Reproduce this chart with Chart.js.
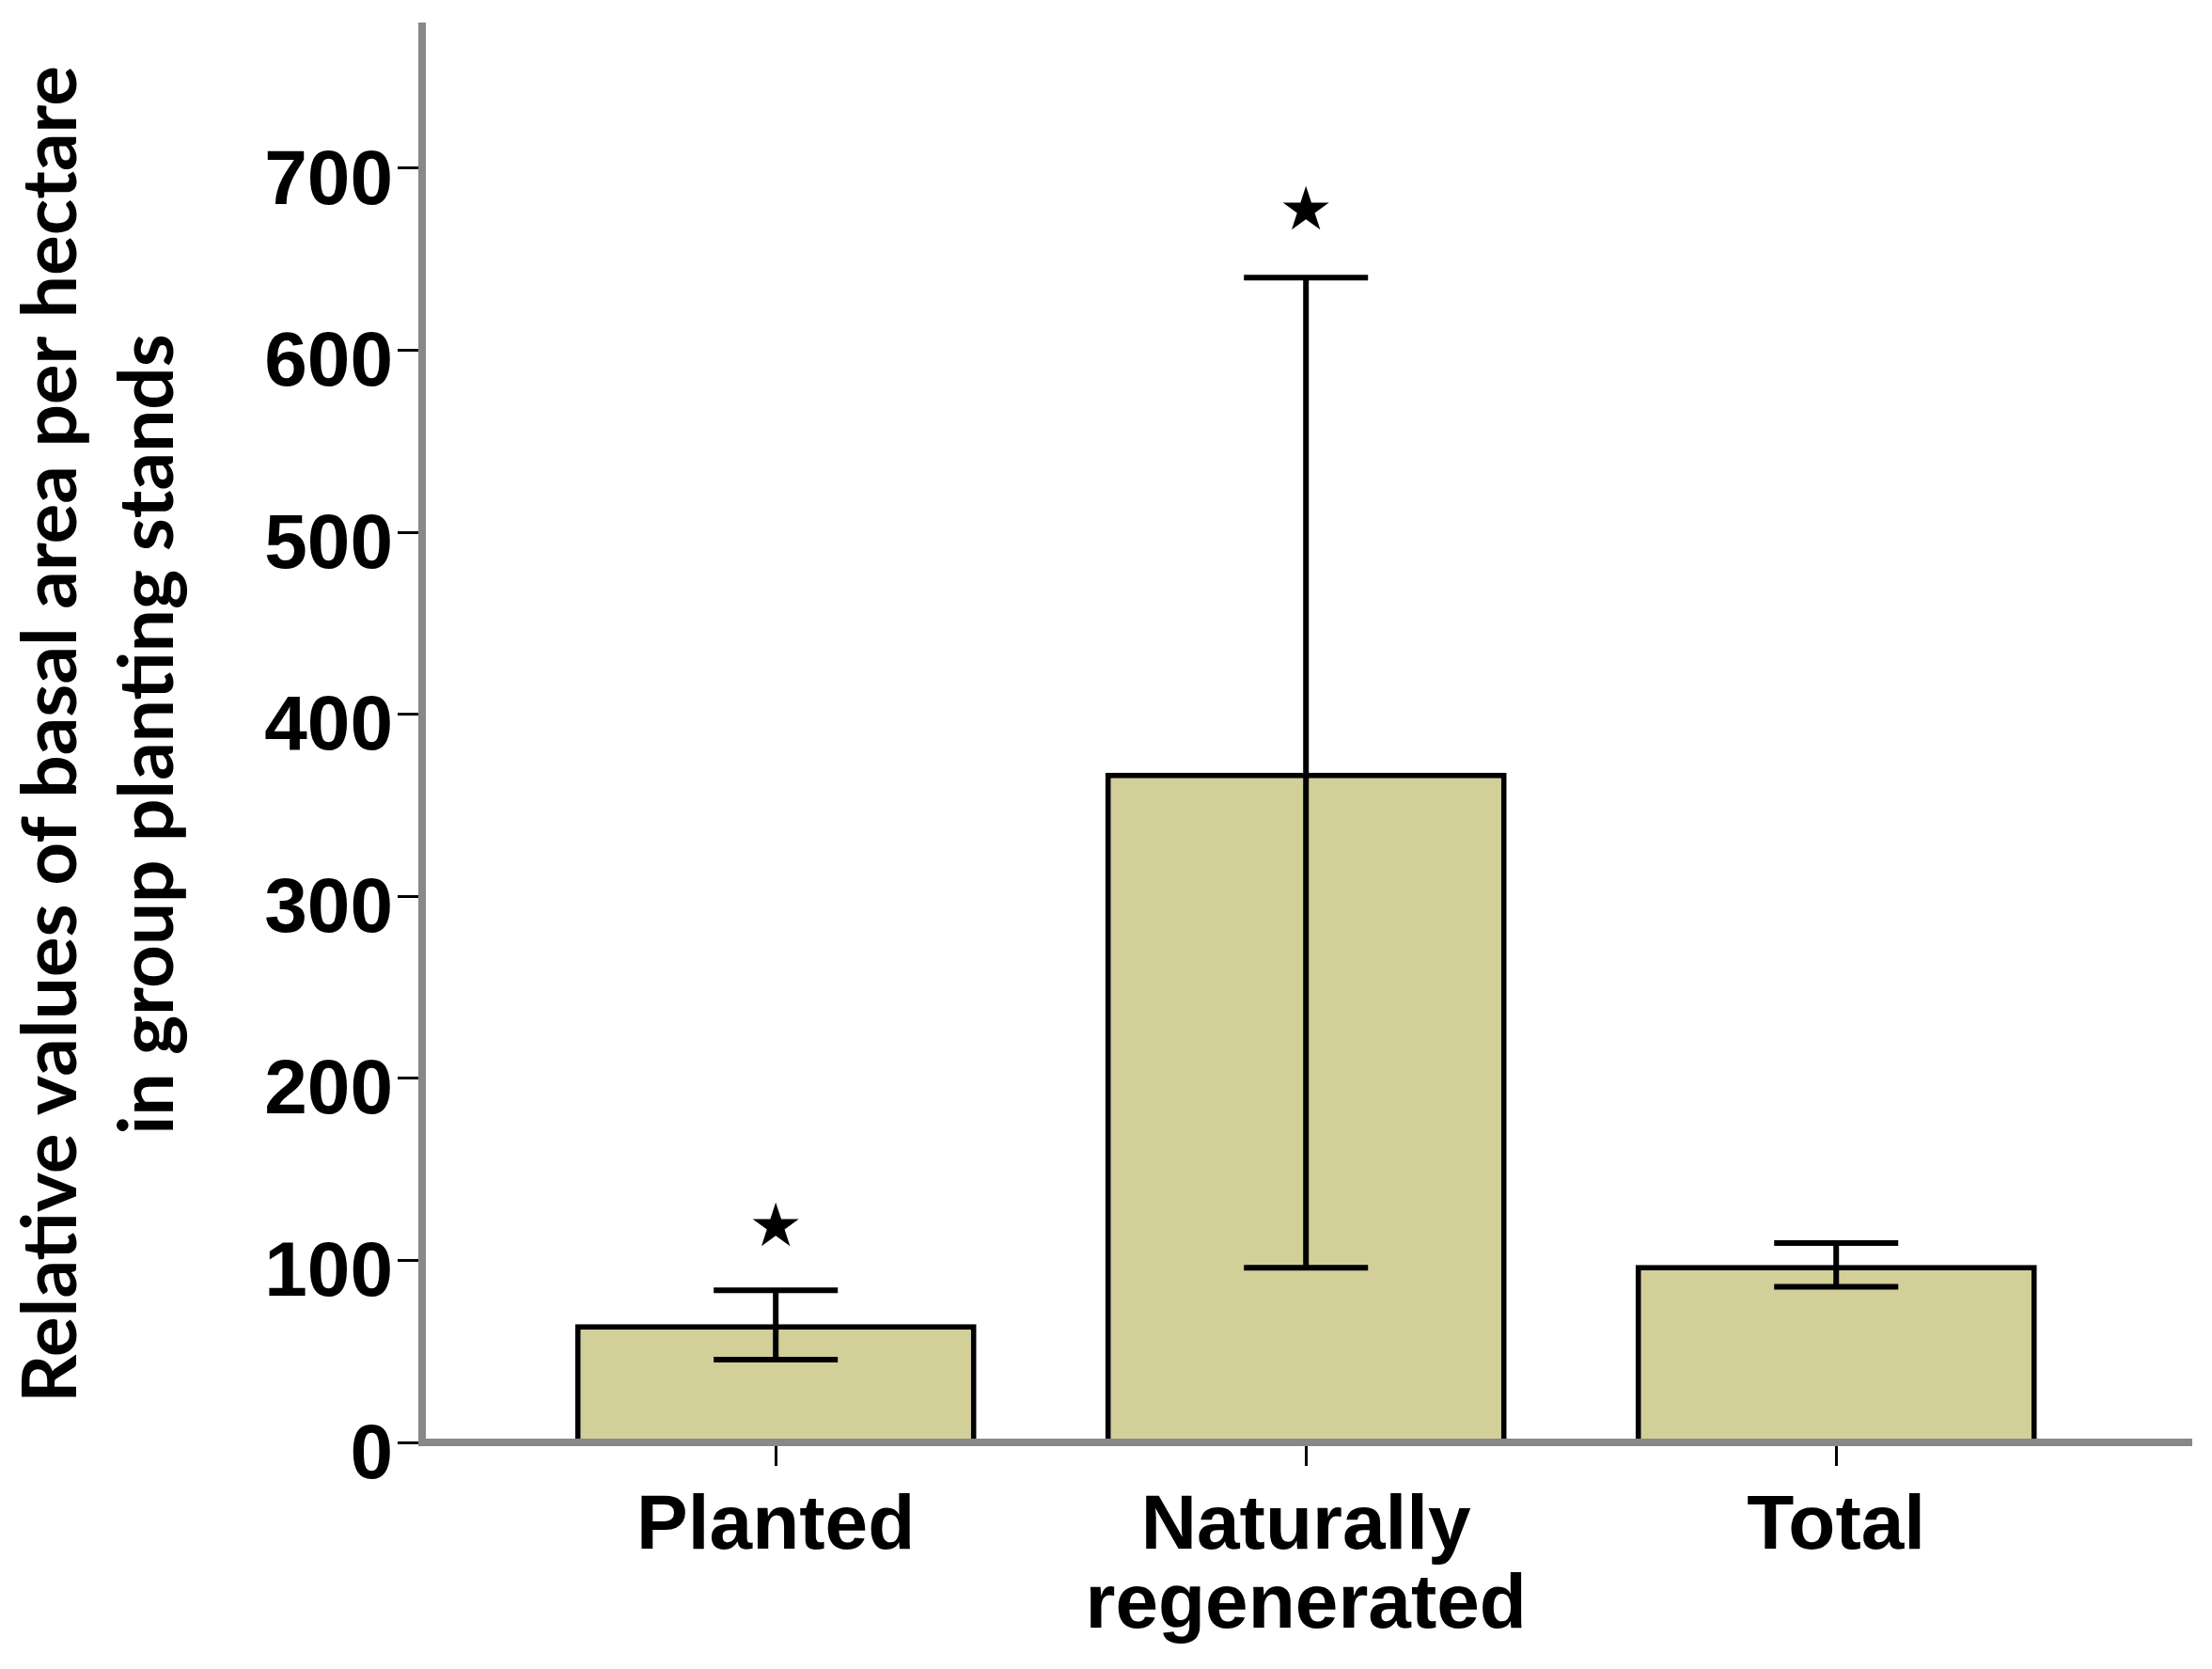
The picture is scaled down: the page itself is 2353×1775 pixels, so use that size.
<!DOCTYPE html>
<html lang="en">
<head>
  <meta charset="utf-8">
  <title>Relative basal area per hectare</title>
  <script src="https://cdn.jsdelivr.net/npm/chart.js@4.4.1/dist/chart.umd.min.js"></script>
  <style>
    html, body {
      margin: 0;
      padding: 0;
      background: #fff;
    }

    #chart {
      display: block;
    }
  </style>
</head>

<body>
  <canvas id="chart" width="2353" height="1775"></canvas>

  <script>
    // values
    const categories = ['Planted', ['Naturally', 'regenerated'], 'Total'];
    const meanValues = [65, 368, 97.5];
    const errLow = [45.5, 96, 85.5];
    const errHigh = [83.5, 640, 109.5];
    const starValues = [116.5, 675, null];
    const yTicks = [0, 100, 200, 300, 400, 500, 600, 700];
    const yTitle = ['Relative values of basal area per hectare', 'in group planting stands'];

    // error bars and significance stars, drawn through the scales
    const errorBars = {
      id: 'errorBars',
      afterDatasetsDraw(chart) {
        const { ctx, scales: { x, y } } = chart;
        const half = 66;
        ctx.save();
        ctx.strokeStyle = '#000';
        ctx.lineWidth = 6;
        errLow.forEach((lo, i) => {
          const px = x.getPixelForValue(i);
          const yLo = y.getPixelForValue(lo);
          const yHi = y.getPixelForValue(errHigh[i]);
          ctx.beginPath();
          ctx.moveTo(px, yLo);
          ctx.lineTo(px, yHi);
          ctx.moveTo(px - half, yLo);
          ctx.lineTo(px + half, yLo);
          ctx.moveTo(px - half, yHi);
          ctx.lineTo(px + half, yHi);
          ctx.stroke();
        });

        ctx.fillStyle = '#000';
        ctx.font = '64px "DejaVu Sans"';
        ctx.textAlign = 'center';
        ctx.textBaseline = 'middle';
        starValues.forEach((v, i) => {
          if (v !== null) ctx.fillText('\u2605', x.getPixelForValue(i), y.getPixelForValue(v));
        });
        ctx.restore();
      }
    };

    const fontFamily = '"Liberation Sans", Arial, sans-serif';

    new Chart(document.getElementById('chart'), {
      type: 'bar',
      data: {
        datasets: [{
          data: meanValues.map((v, i) => ({ x: i, y: v })),
          backgroundColor: '#d3cf98',
          borderColor: '#000',
          borderWidth: 6,
          barPercentage: 0.757,
          categoryPercentage: 1
        }]
      },
      options: {
        responsive: false,
        devicePixelRatio: 1,
        animation: false,
        layout: { padding: { top: 28, right: 23, left: 0, bottom: 0 } },
        plugins: {
          legend: { display: false },
          tooltip: { enabled: false }
        },
        scales: {
          x: {
            type: 'linear',
            offset: false,
            min: -0.667,
            max: 2.668,
            afterBuildTicks: (s) => { s.ticks = categories.map((c, i) => ({ value: i })); },
            afterFit: (s) => { s.height = 241; },
            ticks: {
              callback: (v) => categories[v],
              font: { family: fontFamily, weight: 'bold', size: 82, lineHeight: '84px' },
              color: '#000',
              padding: 23,
              maxRotation: 0,
              autoSkip: false
            },
            grid: { offset: false, drawOnChartArea: false, tickLength: 25, color: '#000', lineWidth: 3 },
            border: { color: '#888', width: 8, z: 1 }
          },
          y: {
            min: 0,
            max: 778,
            afterBuildTicks: (s) => { s.ticks = yTicks.map(v => ({ value: v })); },
            afterFit: (s) => { s.width = 449; },
            ticks: {
              font: { family: fontFamily, weight: 'bold', size: 82, lineHeight: '30px' },
              color: '#000',
              padding: 5,
              labelOffset: 15
            },
            grid: { drawOnChartArea: false, tickLength: 26, color: '#000', lineWidth: 3 },
            border: { color: '#888', width: 8, z: 1 },
            title: {
              display: true,
              text: yTitle,
              color: '#000',
              font: { family: 'Lato', weight: 'bold', size: 80, lineHeight: '103px' },
              padding: { top: 4, bottom: 0 }
            }
          }
        }
      },
      plugins: [errorBars]
    });
  </script>
</body>

</html>
